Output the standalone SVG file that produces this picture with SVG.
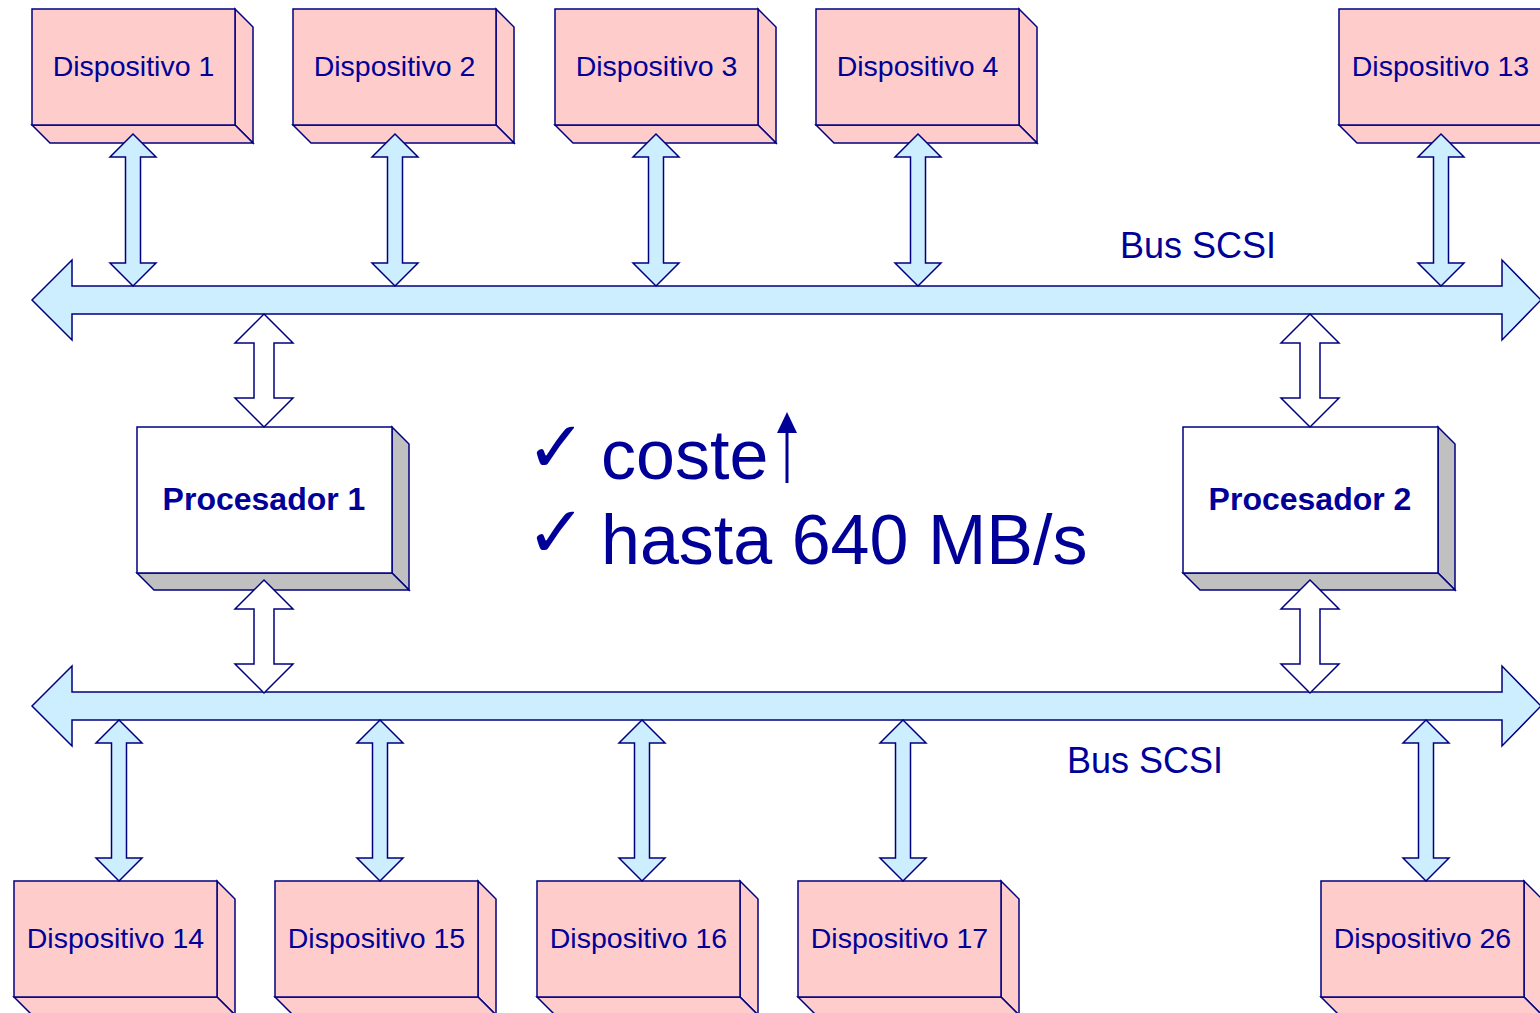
<svg xmlns="http://www.w3.org/2000/svg" xmlns:xlink="http://www.w3.org/1999/xlink" width="1540" height="1013" viewBox="0 0 1540 1013">
<style>
.dev{fill:#ffcccc;stroke:#000080;stroke-width:1.5;stroke-linejoin:miter}
.proc{fill:#ffffff;stroke:#000080;stroke-width:1.5}
.procside{fill:#c0c0c0;stroke:#000080;stroke-width:1.5}
.bus{fill:#cceeff;stroke:#000080;stroke-width:1.5}
.blue{fill:#cceeff;stroke:#000080;stroke-width:1.5}
.white{fill:#ffffff;stroke:#000080;stroke-width:1.5}
.lbl{font-family:"Liberation Sans",Arial,sans-serif;font-size:28.5px;fill:#000099;text-anchor:middle}
.plbl{font-family:"Liberation Sans",Arial,sans-serif;font-size:32px;font-weight:bold;fill:#000099;text-anchor:middle}
.bus-lbl{font-family:"Liberation Sans",Arial,sans-serif;font-size:36px;fill:#000099}
.big{font-family:"Liberation Sans",Arial,sans-serif;font-size:70px;fill:#000099}
.chk{font-family:"DejaVu Sans",sans-serif;font-size:72px;font-weight:bold;fill:#000099}
</style>
<defs>
<g id="devbox">
<polygon class="dev" points="203,0 221,18 221,134 203,116"/>
<polygon class="dev" points="0,116 203,116 221,134 18,134"/>
<rect class="dev" x="0" y="0" width="203" height="116"/>
</g>
<g id="procbox">
<polygon class="procside" points="255,0 272,17 272,163 255,146"/>
<polygon class="procside" points="0,146 255,146 272,163 17,163"/>
<rect class="proc" x="0" y="0" width="255" height="146"/>
</g>
<polygon id="arrTop" class="blue" points="0,0 23,23 7.5,23 7.5,129 23,129 0,152 -23,129 -7.5,129 -7.5,23 -23,23"/>
<polygon id="arrBot" class="blue" points="0,0 23,23 7.5,23 7.5,138 23,138 0,161 -23,138 -7.5,138 -7.5,23 -23,23"/>
<polygon id="arrProc" class="white" points="0,0 29,29 10,29 10,84 29,84 0,113 -29,84 -10,84 -10,29 -29,29"/>
</defs>

<g id="bus-top">
<polygon class="bus" points="32,300 72,260 72,286 1502,286 1502,260 1541,300 1502,340 1502,314 72,314 72,340"/>
<text class="bus-lbl" x="1120" y="258">Bus SCSI</text>
</g>
<g id="bus-bottom">
<polygon class="bus" points="32,706 72,666 72,692 1502,692 1502,666 1541,706 1502,746 1502,720 72,720 72,746"/>
<text class="bus-lbl" x="1067" y="773">Bus SCSI</text>
</g>

<g id="dispositivo-1"><use xlink:href="#devbox" x="32" y="9"/><text class="lbl" x="133.5" y="76">Dispositivo 1</text></g>
<g id="dispositivo-2"><use xlink:href="#devbox" x="293" y="9"/><text class="lbl" x="394.5" y="76">Dispositivo 2</text></g>
<g id="dispositivo-3"><use xlink:href="#devbox" x="555" y="9"/><text class="lbl" x="656.5" y="76">Dispositivo 3</text></g>
<g id="dispositivo-4"><use xlink:href="#devbox" x="816" y="9"/><text class="lbl" x="917.5" y="76">Dispositivo 4</text></g>
<g id="dispositivo-13"><use xlink:href="#devbox" x="1339" y="9"/><text class="lbl" x="1440.5" y="76">Dispositivo 13</text></g>

<g id="dispositivo-14"><use xlink:href="#devbox" x="14" y="881"/><text class="lbl" x="115.5" y="948">Dispositivo 14</text></g>
<g id="dispositivo-15"><use xlink:href="#devbox" x="275" y="881"/><text class="lbl" x="376.5" y="948">Dispositivo 15</text></g>
<g id="dispositivo-16"><use xlink:href="#devbox" x="537" y="881"/><text class="lbl" x="638.5" y="948">Dispositivo 16</text></g>
<g id="dispositivo-17"><use xlink:href="#devbox" x="798" y="881"/><text class="lbl" x="899.5" y="948">Dispositivo 17</text></g>
<g id="dispositivo-26"><use xlink:href="#devbox" x="1321" y="881"/><text class="lbl" x="1422.5" y="948">Dispositivo 26</text></g>

<g id="procesador-1"><use xlink:href="#procbox" x="137" y="427"/><text class="plbl" x="264" y="510">Procesador 1</text></g>
<g id="procesador-2"><use xlink:href="#procbox" x="1183" y="427"/><text class="plbl" x="1310" y="510">Procesador 2</text></g>

<g id="connectors">
<use xlink:href="#arrTop" x="133" y="134"/>
<use xlink:href="#arrTop" x="395" y="134"/>
<use xlink:href="#arrTop" x="656" y="134"/>
<use xlink:href="#arrTop" x="918" y="134"/>
<use xlink:href="#arrTop" x="1441" y="134"/>
<use xlink:href="#arrBot" x="119" y="720"/>
<use xlink:href="#arrBot" x="380" y="720"/>
<use xlink:href="#arrBot" x="642" y="720"/>
<use xlink:href="#arrBot" x="903" y="720"/>
<use xlink:href="#arrBot" x="1426" y="720"/>
<use xlink:href="#arrProc" x="264" y="314"/>
<use xlink:href="#arrProc" x="264" y="580"/>
<use xlink:href="#arrProc" x="1310" y="314"/>
<use xlink:href="#arrProc" x="1310" y="580"/>
</g>

<g id="notes">
<text class="chk" x="526" y="472">✓</text>
<text class="big" x="601" y="479">coste</text>
<line x1="787" y1="483" x2="787" y2="430" stroke="#000099" stroke-width="3"/>
<polygon points="787,412 797,433 777,433" fill="#000099"/>
<text class="chk" x="526" y="557">✓</text>
<text class="big" x="601" y="564">hasta 640 MB/s</text>
</g>
</svg>
